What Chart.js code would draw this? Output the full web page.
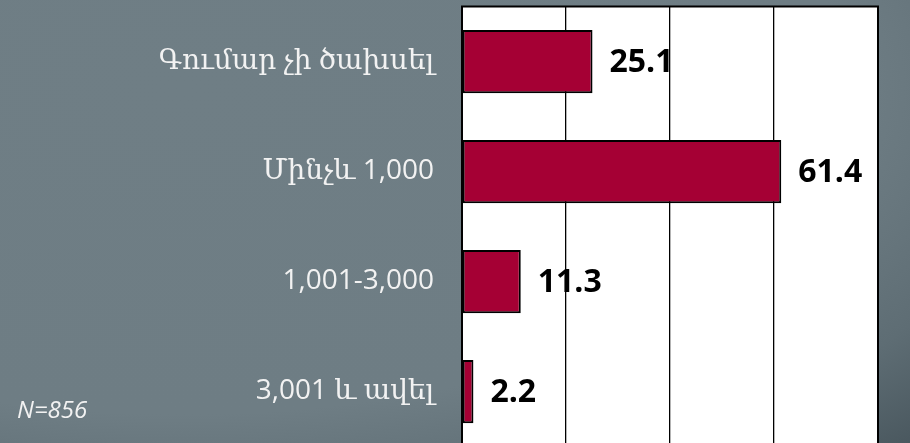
<!DOCTYPE html>
<html>
<head>
<meta charset="utf-8">
<script src="https://cdn.jsdelivr.net/npm/chart.js@4/dist/chart.umd.min.js"></script>
<style>
  html, body { margin: 0; padding: 0; }
  body {
    width: 910px; height: 443px; overflow: hidden;
    background: radial-gradient(ellipse farthest-corner at 20% 20%, #6f7e85 0%, #6e7d84 65%, #5e6d74 85%, #4a585f 100%);
  }
  #wrap { position: relative; width: 910px; height: 450px; }
</style>
</head>
<body>
<div id="wrap"><canvas id="chart"></canvas></div>
<script>
// ----- DATA -----
var categories = ["Գումար չի ծախսել", "Մինչև 1,000", "1,001-3,000", "3,001 և ավել"];
var values = [25.1, 61.4, 11.3, 2.2];
var xTicks = [0, 20, 40, 60, 80];
var note = "N=856";

var labelFont = "'Open Sans', 'DejaVu Serif', sans-serif";

// white plot area + frame
var plotFrame = {
  id: 'plotFrame',
  beforeDraw: function(chart) {
    var a = chart.chartArea, c = chart.ctx;
    c.save();
    c.fillStyle = '#ffffff';
    c.fillRect(a.left, a.top, a.right - a.left, a.bottom - a.top);
    c.restore();
  },
  afterDraw: function(chart) {
    var a = chart.chartArea, c = chart.ctx;
    c.save();
    c.strokeStyle = '#000';
    c.lineWidth = 2;
    c.strokeRect(a.left, a.top, a.right - a.left, a.bottom - a.top);
    // sample size note
    c.fillStyle = '#f2f2f2';
    c.font = "italic 24px " + labelFont;
    c.textAlign = 'left';
    c.textBaseline = 'alphabetic';
    c.fillText(note, 17, 418);
    c.restore();
  }
};

// value labels next to bars
var valueLabels = {
  id: 'valueLabels',
  afterDatasetsDraw: function(chart) {
    var c = chart.ctx;
    var meta = chart.getDatasetMeta(0);
    c.save();
    c.fillStyle = '#000';
    c.font = "bold 32px " + labelFont;
    c.textAlign = 'left';
    c.textBaseline = 'middle';
    meta.data.forEach(function(bar, i) {
      c.fillText(values[i].toFixed(1), bar.x + 17, bar.y + 1);
    });
    c.restore();
  }
};

var ctx = document.getElementById('chart').getContext('2d');

var chart = new Chart(ctx, {
  type: 'bar',
  data: {
    labels: categories,
    datasets: [{
      data: values,
      backgroundColor: '#a50034',
      borderColor: '#000',
      borderWidth: 2,
      borderSkipped: false,
      barPercentage: 1,
      categoryPercentage: 0.575
    }]
  },
  options: {
    indexAxis: 'y',
    responsive: true,
    maintainAspectRatio: false,
    animation: false,
    layout: { padding: { top: 6.5, bottom: 3.5, right: 32, left: 0 } },
    plugins: {
      legend: { display: false },
      tooltip: { enabled: false }
    },
    scales: {
      x: {
        min: xTicks[0],
        max: xTicks[xTicks.length - 1],
        afterBuildTicks: function(scale) {
          scale.ticks = xTicks.map(function(v) { return { value: v }; });
        },
        afterFit: function(scale) {
          scale.height = 0;
          scale.paddingLeft = 0; scale.paddingRight = 0;
        },
        ticks: { display: false },
        grid: { color: '#000', lineWidth: 1.3, drawTicks: false },
        border: { display: false }
      },
      y: {
        afterFit: function(scale) {
          scale.width = 462;
          scale.paddingTop = 0; scale.paddingBottom = 0;
        },
        ticks: {
          color: '#f2f2f2',
          padding: 28,
          font: { family: labelFont, size: 28 }
        },
        grid: { display: false, drawTicks: false },
        border: { display: false }
      }
    }
  },
  plugins: [plotFrame, valueLabels]
});
</script>
</body>
</html>
